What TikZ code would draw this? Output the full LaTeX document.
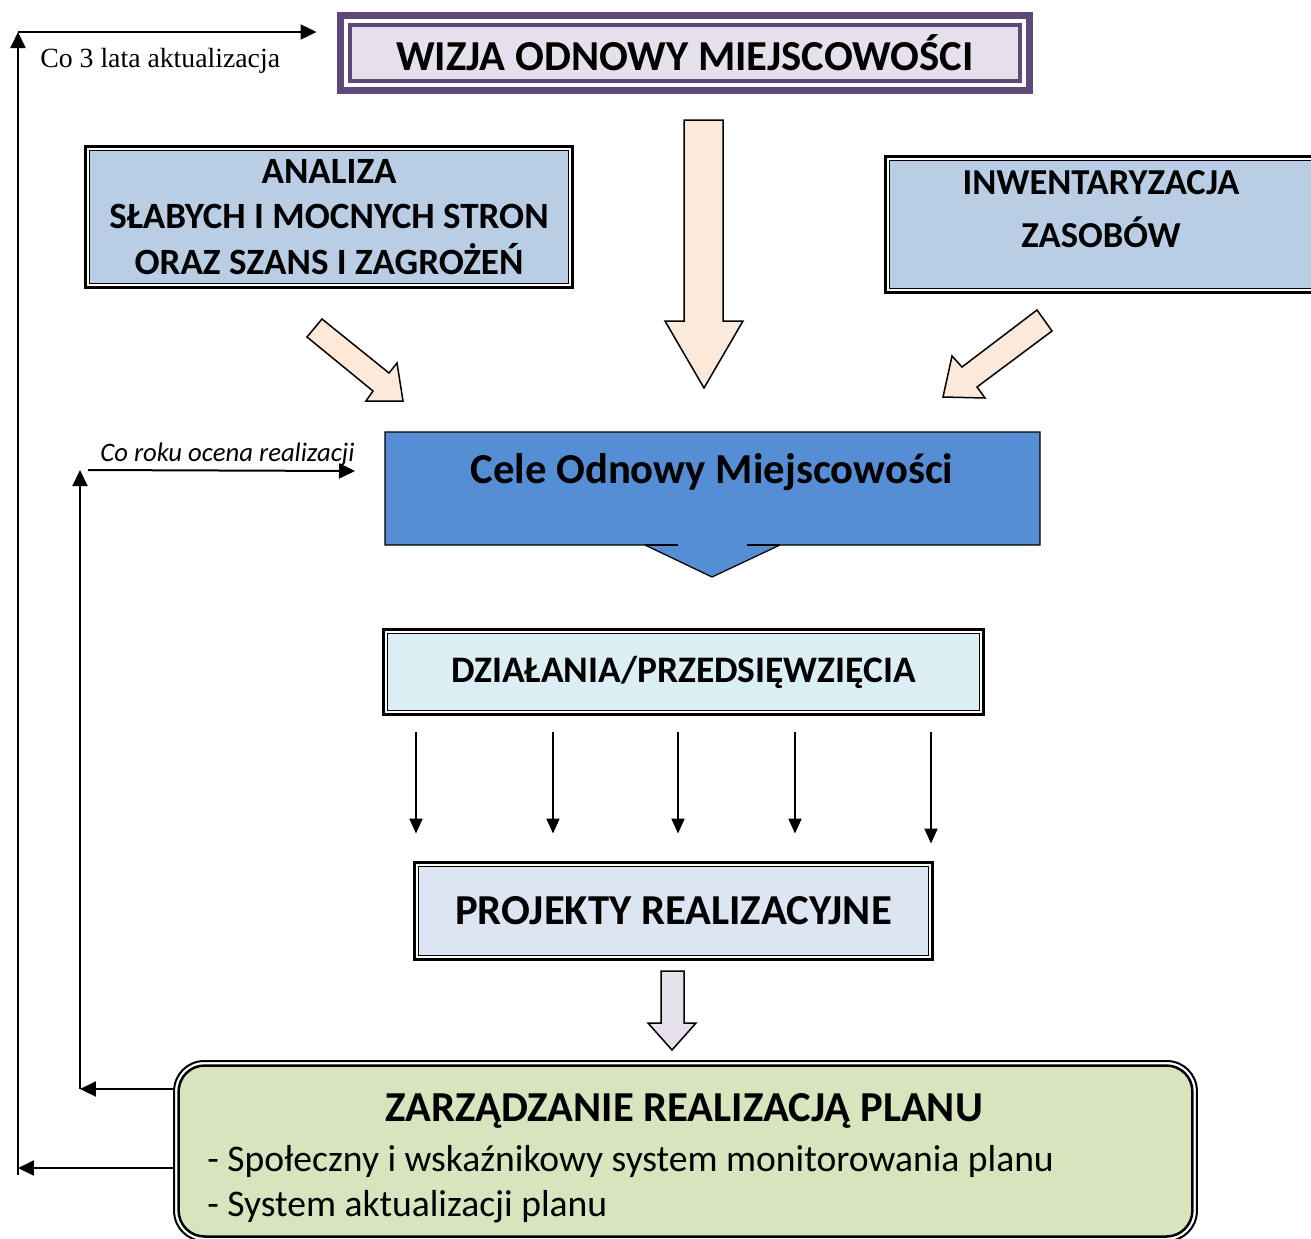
\documentclass[tikz,border=0pt]{standalone}
\usepackage{fontspec}
\setmainfont{Carlito}
\newfontfamily\capfont{Liberation Serif}
\usepackage{tikz}
\usetikzlibrary{arrows.meta}
\definecolor{wizpurple}{RGB}{95,73,122}
\definecolor{wizfill}{RGB}{229,224,236}
\definecolor{boxblue}{RGB}{185,205,229}
\definecolor{peach}{RGB}{253,233,217}
\definecolor{celeblue}{RGB}{85,142,213}
\definecolor{dzialfill}{RGB}{218,238,243}
\definecolor{projfill}{RGB}{220,230,242}
\definecolor{zarzfill}{RGB}{215,228,189}

\begin{document}
\begin{tikzpicture}[x=0.02cm, y=-0.02cm,
  dblbox/.style={draw, line width=0.06cm, fill=white, inner sep=0pt, align=center,
    path picture={\draw[line width=0.025cm, fill=#1]
      ([shift={(0.08cm,0.08cm)}]path picture bounding box.south west) rectangle
      ([shift={(-0.08cm,-0.08cm)}]path picture bounding box.north east);}},
  blockarr/.style={draw, line width=0.03cm, line join=miter},
  fbarrow/.style={-{Triangle[length=0.32cm,width=0.3cm]}, line width=0.04cm},
  thinarr/.style={-{Triangle[length=0.3cm,width=0.26cm]}, line width=0.04cm},
  bigfont/.style={font=\bfseries\fontsize{24.3}{29}\selectfont}]
  \useasboundingbox (0,0) rectangle (1311,1238);

  % Nodes
  \node[draw=wizpurple, line width=0.14cm, fill=white, inner sep=0pt,
    minimum width=13.78cm, minimum height=1.5cm, bigfont,
    path picture={\draw[wizpurple, line width=0.08cm, fill=wizfill]
      ([shift={(0.19cm,0.19cm)}]path picture bounding box.south west) rectangle
      ([shift={(-0.19cm,-0.19cm)}]path picture bounding box.north east);}]
    (wizja) at (685,53) {WIZJA ODNOWY MIEJSCOWOŚCI};
  \node[dblbox=boxblue, minimum width=9.74cm, minimum height=2.82cm,
    font=\bfseries\fontsize{21.1}{25.9}\selectfont]
    (swot) at (329,217) {ANALIZA\\SŁABYCH I MOCNYCH STRON\\ORAZ SZANS I ZAGROŻEŃ};
  \node[dblbox=boxblue, minimum width=8.62cm, minimum height=2.72cm] (inwent) at (1101,224.5) {};
  \node[align=center, font=\bfseries\fontsize{20.8}{30.2}\selectfont] (inwtxt) at (1101,209) {INWENTARYZACJA\\ZASOBÓW};

  % goals callout
  \path[draw, fill=celeblue, line width=0.025cm] (385,432) -- (1040,432) -- (1040,545) -- (747,545) -- (780,545)
    -- (712,577) -- (645,545) -- (678,545) -- (385,545) -- cycle;
  \draw[line width=0.05cm] (645,545) -- (678,545) (747,545) -- (780,545);
  \node[bigfont] (cele) at (712,472) {Cele Odnowy Miejscowości};

  \node[dblbox=dzialfill, minimum width=12cm, minimum height=1.7cm,
    font=\bfseries\fontsize{21.3}{26}\selectfont] (dzial) at (683.5,672) {DZIAŁANIA/PRZEDSIĘWZIĘCIA};
  \node[dblbox=projfill, minimum width=10.36cm, minimum height=1.94cm, bigfont] (proj) at (673.5,911) {PROJEKTY REALIZACYJNE};

  \node[draw, rounded corners=0.6cm, line width=0.04cm, fill=white, minimum width=20.46cm, minimum height=3.6cm,
    path picture={\draw[line width=0.05cm, fill=zarzfill, rounded corners=0.52cm]
      ([shift={(0.09cm,0.09cm)}]path picture bounding box.south west) rectangle
      ([shift={(-0.09cm,-0.09cm)}]path picture bounding box.north east);}]
    (zarz) at (685.5,1151) {};
  \node[bigfont] (zarztit) at (684,1111) {ZARZĄDZANIE REALIZACJĄ PLANU};
  \node[anchor=west, inner sep=0pt, font=\fontsize{21.4}{26}\selectfont] (zarz1) at (207,1161) {- Społeczny i wskaźnikowy system monitorowania planu};
  \node[anchor=west, inner sep=0pt, font=\fontsize{21.4}{26}\selectfont] (zarz2) at (207,1207) {- System aktualizacji planu};

  % block arrows
  \draw[blockarr, fill=peach] (684,120) -- (723,120) -- (723,321) -- (743,321) -- (704,388) -- (665,321) -- (684,321) -- cycle;
  \draw[blockarr, fill=peach] (307,337) -- (322,319) -- (389,373) -- (397,363) -- (403,401) -- (366,401) -- (373,391) -- cycle;
  \draw[blockarr, fill=peach] (1037,310) -- (1052,331) -- (977,387) -- (985,398) -- (943,397) -- (952,356) -- (962,367) -- cycle;
  \draw[blockarr, fill=wizfill] (661,971) -- (684,971) -- (684,1023) -- (696,1023) -- (672,1050) -- (648,1023) -- (661,1023) -- cycle;

  % Edges
  \foreach \x/\s in {416/0.55cm, 553/0.55cm, 678/0.55cm, 795/0.55cm, 931/0.35cm}
    \draw[thinarr, shorten <=0.31cm, shorten >=\s] (dzial.south -| \x,0) -- (proj.north -| \x,0);

  % feedback loops
  \coordinate (t3) at (18,32);
  \coordinate (b3) at (18,1168);
  \coordinate (tr) at (80,470);
  \coordinate (br) at (80,1089);
  \coordinate (cr) at (355,471);
  \draw[fbarrow] (zarz.west |- b3) -- (b3);
  \draw[fbarrow] ([yshift=-0.14cm]b3) -- (t3);
  \draw[fbarrow, shorten >=0.41cm] (t3) -- (t3 -| wizja.west);
  \draw[fbarrow] (zarz.west |- br) -- (br);
  \draw[fbarrow] (br) -- (tr);
  \draw[fbarrow] ([xshift=0.16cm]tr) -- (cr);

  \node[anchor=west, inner sep=0pt, font=\capfont\fontsize{15.8}{18}\selectfont] (lata) at (40,61) {Co 3 lata aktualizacja};
  \node[anchor=west, inner sep=0pt, font=\itshape\fontsize{15.2}{17}\selectfont] (roku) at (100,455) {Co roku ocena realizacji};
\end{tikzpicture}
\end{document}
